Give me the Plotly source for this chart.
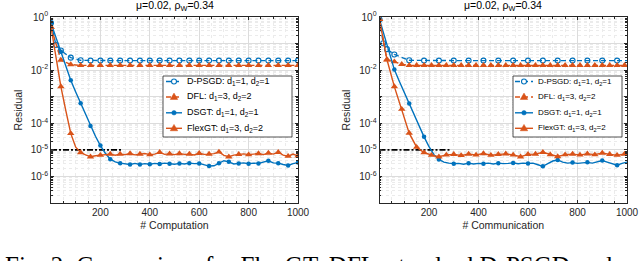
import numpy as np
import plotly.graph_objects as go

# ---------------- data (log10 of residual) ----------------
# Left panel: residual vs # Computation
comp_dpsgd_x = [0, 20, 40] + list(range(80, 1001, 40))
comp_dpsgd_log = [-0.23, -1.05, -1.26, -1.53, -1.63,
                  -1.64, -1.64, -1.64, -1.64, -1.64, -1.64, -1.64, -1.64, -1.64, -1.64, -1.64,
                  -1.64, -1.64, -1.64, -1.64, -1.64, -1.64, -1.64, -1.64, -1.64, -1.64, -1.64]

comp_dfl_x = list(range(0, 1001, 40))
comp_dfl_log = [-0.38, -1.62, -1.79,
                -1.82, -1.82, -1.82, -1.82, -1.82, -1.82, -1.82, -1.82, -1.82, -1.82, -1.82,
                -1.82, -1.82, -1.82, -1.82, -1.82, -1.82, -1.82, -1.82, -1.82, -1.82, -1.82, -1.82]

comp_dsgt_x = list(range(0, 1001, 20))
comp_dsgt_log = [-0.23, -0.78, -1.31, -1.86, -2.38, -2.82, -3.25, -3.68, -4.10, -4.49, -4.84,
                 -5.13, -5.35, -5.45, -5.50, -5.52,
                 -5.55, -5.51, -5.55, -5.52, -5.54, -5.51, -5.53, -5.50, -5.52, -5.54,
                 -5.51, -5.53, -5.50, -5.52, -5.51, -5.55, -5.61, -5.60, -5.50, -5.41,
                 -5.45, -5.53, -5.51, -5.49, -5.52, -5.50, -5.51, -5.47, -5.41, -5.49,
                 -5.50, -5.55, -5.59, -5.52, -5.48]

comp_flexgt_x = list(range(0, 1001, 20))
comp_flexgt_log = [-0.38, -1.50, -2.62, -3.52, -4.38, -4.90, -5.10, -5.19, -5.26, -5.22, -5.20,
                   -5.18, -5.16, -5.20, -5.16, -5.18, -5.14, -5.19, -5.16, -5.14, -5.18,
                   -5.16, -5.09, -5.17, -5.15, -5.18, -5.14, -5.17, -5.16, -5.19, -5.13,
                   -5.17, -5.16, -5.14, -5.08, -5.21, -5.26, -5.20, -5.17, -5.15, -5.18,
                   -5.16, -5.14, -5.18, -5.12, -5.16, -5.09, -5.20, -5.24, -5.16, -5.23]

# Right panel: residual vs # Communication
comm_dpsgd_x = [0, 15, 30] + list(range(60, 961, 60)) + [1000]
comm_dpsgd_log = [-0.09, -0.99, -1.21, -1.41, -1.63,
                  -1.64, -1.64, -1.64, -1.64, -1.64, -1.64, -1.64, -1.64, -1.64, -1.64,
                  -1.64, -1.64, -1.64, -1.64, -1.64]

comm_dfl_x = list(range(0, 991, 30)) + [1000]
comm_dfl_log = [-0.09, -1.61, -1.68, -1.78,
                -1.82, -1.82, -1.82, -1.82, -1.82, -1.82, -1.82, -1.82, -1.82, -1.82, -1.82,
                -1.82, -1.82, -1.82, -1.82, -1.82, -1.82, -1.82, -1.82, -1.82, -1.82, -1.82,
                -1.82, -1.82, -1.82, -1.82, -1.82, -1.82, -1.82, -1.82, -1.82]

comm_dsgt_x = list(range(0, 1001, 20))
comm_dsgt_log = [-0.09, -0.71, -1.34, -1.98, -2.42, -2.85, -3.26, -3.68, -4.10, -4.51, -4.88,
                 -5.18, -5.36, -5.46, -5.50, -5.52,
                 -5.51, -5.54, -5.50, -5.53, -5.51, -5.52, -5.50, -5.53, -5.50, -5.52,
                 -5.51, -5.49, -5.52, -5.50, -5.51, -5.50, -5.56, -5.62, -5.52, -5.42,
                 -5.38, -5.46, -5.50, -5.48, -5.51, -5.49, -5.47, -5.50, -5.46, -5.40,
                 -5.46, -5.52, -5.58, -5.51, -5.46]

comm_flexgt_x = list(range(0, 991, 30)) + [1000]
comm_flexgt_log = [-0.09, -1.60, -2.62, -3.47, -4.37, -4.90, -5.10, -5.20, -5.26, -5.19,
                   -5.17, -5.21, -5.16, -5.19, -5.14, -5.20, -5.17, -5.15, -5.19, -5.26,
                   -5.17, -5.16, -5.09, -5.18, -5.25, -5.18, -5.16, -5.19, -5.15, -5.18,
                   -5.12, -5.17, -5.20, -5.16, -5.17]

thr_x = [0, 290]
thr_y = [1e-5, 1e-5]

x_ticks = [200, 400, 600, 800, 1000]
y_decades = [1e-7, 1e-6, 1e-5, 1e-4, 1e-3, 1e-2, 1e-1, 1e0]
y_ticktext = ["", "10<sup>-6</sup>", "10<sup>-5</sup>", "10<sup>-4</sup>", "",
              "10<sup>-2</sup>", "", "10<sup>0</sup>"]

names = ["D-PSGD: d<sub>1</sub>=1, d<sub>2</sub>=1",
         "DFL: d<sub>1</sub>=3, d<sub>2</sub>=2",
         "DSGT: d<sub>1</sub>=1, d<sub>2</sub>=1",
         "FlexGT: d<sub>1</sub>=3, d<sub>2</sub>=2"]

title_text = "\u03bc=0.02, \u03c1<sub>W</sub>=0.34"
caption_text = "Fig. 2: Comparison for FlexGT, DFL, standard D-PSGD and"

# ---------------- styling ----------------
BLUE = "#0072BD"
ORANGE = "#D95319"
AXC = "#262626"
FONT = "Liberation Sans, Arial, sans-serif"

W, H = 640, 261
ML, MR, MT, MB = 51, 13, 17, 58
PW, PH = W - ML - MR, H - MT - MB


def px2x(px):
    return (px - ML) / PW


def py2y(py):
    return (H - MB - py) / PH


fig = go.Figure()

styles = [
    dict(color=BLUE, dash="5px,3px", symbol="circle-open", size=5, mlw=1.1),
    dict(color=ORANGE, dash="5px,3px", symbol="triangle-up", size=6.5, mlw=0),
    dict(color=BLUE, dash="solid", symbol="circle", size=4.5, mlw=0),
    dict(color=ORANGE, dash="solid", symbol="triangle-up", size=6.5, mlw=0),
]


def add_series(x, logy, st, xa, ya, mstep):
    x = np.asarray(x, dtype=float)
    y = 10.0 ** np.asarray(logy, dtype=float)
    line = dict(color=st["color"], width=1.4, dash=st["dash"])
    marker = dict(color=st["color"], symbol=st["symbol"], size=st["size"],
                  line=dict(color=st["color"], width=st["mlw"]))
    fig.add_trace(go.Scatter(x=x, y=y, mode="lines", line=line, showlegend=False,
                             xaxis=xa, yaxis=ya, hoverinfo="skip"))
    m = (x % mstep) == 0
    fig.add_trace(go.Scatter(x=x[m], y=y[m], mode="markers", marker=marker,
                             showlegend=False, xaxis=xa, yaxis=ya, hoverinfo="skip"))


# threshold lines first (underneath)
for xa, ya in (("x", "y"), ("x2", "y2")):
    fig.add_trace(go.Scatter(x=thr_x, y=thr_y, mode="lines", showlegend=False,
                             line=dict(color="black", width=1.6, dash="6px,2px,2px,2px"),
                             xaxis=xa, yaxis=ya, hoverinfo="skip"))

left = [(comp_dpsgd_x, comp_dpsgd_log, 20), (comp_dfl_x, comp_dfl_log, 40),
        (comp_dsgt_x, comp_dsgt_log, 40), (comp_flexgt_x, comp_flexgt_log, 40)]
right = [(comm_dpsgd_x, comm_dpsgd_log, 15), (comm_dfl_x, comm_dfl_log, 30),
         (comm_dsgt_x, comm_dsgt_log, 60), (comm_flexgt_x, comm_flexgt_log, 30)]

for (x, ly, ms), st in zip(left, styles):
    add_series(x, ly, st, "x", "y", ms)
for (x, ly, ms), st in zip(right, styles):
    add_series(x, ly, st, "x2", "y2", ms)

# ---------------- compact MATLAB-style legend boxes ----------------
legend_specs = [
    dict(box=(163, 76, 292, 137), line=(166, 182), text_x=185,
         rows=[81.5, 97.0, 112.8, 128.3], font=9),
    dict(box=(513, 76, 622, 137), line=(515, 533), text_x=536,
         rows=[81.5, 97.0, 112.8, 128.3], font=8),
]
for spec in legend_specs:
    bx0, by0, bx1, by1 = spec["box"]
    fig.add_shape(type="rect", xref="paper", yref="paper", layer="above",
                  x0=px2x(bx0), x1=px2x(bx1), y0=py2y(by1), y1=py2y(by0),
                  line=dict(color=AXC, width=0.8), fillcolor="white")
    lx0, lx1 = spec["line"]
    xm = px2x((lx0 + lx1) / 2)
    for st, nm, ry in zip(styles, names, spec["rows"]):
        yy = py2y(ry)
        fig.add_shape(type="line", xref="paper", yref="paper", layer="above",
                      x0=px2x(lx0), x1=px2x(lx1), y0=yy, y1=yy,
                      line=dict(color=st["color"], width=1.4, dash=st["dash"]))
        r = st["size"] / 2
        if st["symbol"].startswith("circle"):
            open_ = st["symbol"].endswith("open")
            fig.add_shape(type="circle", xref="paper", yref="paper", layer="above",
                          xsizemode="pixel", ysizemode="pixel", xanchor=xm, yanchor=yy,
                          x0=-r, x1=r, y0=-r, y1=r,
                          line=dict(color=st["color"], width=st["mlw"] if open_ else 0.5),
                          fillcolor="white" if open_ else st["color"])
        else:
            fig.add_shape(type="path", xref="paper", yref="paper", layer="above",
                          xsizemode="pixel", ysizemode="pixel", xanchor=xm, yanchor=yy,
                          path=f"M {-r*1.15} {-r*0.75} L {r*1.15} {-r*0.75} L 0 {r*1.2} Z",
                          line=dict(color=st["color"], width=0.5), fillcolor=st["color"])
        fig.add_annotation(text=nm, xref="paper", yref="paper", x=px2x(spec["text_x"]),
                           y=yy, xanchor="left", yanchor="middle", showarrow=False,
                           font=dict(family=FONT, size=spec["font"], color="black"))

minor_y = [k * 10.0 ** d for d in range(-7, 0) for k in range(2, 10)]
minor_x = [v for v in range(50, 1000, 50) if v % 200 != 0]

xcommon = dict(range=[0, 1000], tickvals=x_ticks, ticks="inside", ticklen=3,
               tickcolor=AXC, showline=True, linecolor=AXC, linewidth=0.8, mirror="ticks",
               showgrid=True, gridcolor="#dcdcdc", gridwidth=0.7, zeroline=False,
               automargin=False,
               tickfont=dict(family=FONT, size=10, color=AXC),
               minor=dict(tickvals=minor_x, showgrid=True, gridcolor="#ebebeb",
                          griddash="dot", gridwidth=0.7, ticks="inside", ticklen=2,
                          tickcolor=AXC),
               title=dict(font=dict(family=FONT, size=10.5, color=AXC), standoff=4))
ycommon = dict(type="log", range=[-7, 0], tickvals=y_decades, ticktext=y_ticktext,
               ticks="inside", ticklen=3, tickcolor=AXC, showline=True, linecolor=AXC,
               linewidth=0.8, mirror="ticks", showgrid=True, gridcolor="#dcdcdc",
               gridwidth=0.7, zeroline=False, automargin=False,
               tickfont=dict(family=FONT, size=10, color=AXC),
               minor=dict(tickvals=minor_y, showgrid=True, gridcolor="#ebebeb",
                          griddash="dot", gridwidth=0.7, ticks="inside", ticklen=2,
                          tickcolor=AXC),
               title=dict(text="Residual", font=dict(family=FONT, size=10.5, color=AXC),
                          standoff=6))

d1 = [0, px2x(298)]
d2 = [px2x(379.5), 1.0]
fig.update_layout(
    width=W, height=H,
    margin=dict(l=ML, r=MR, t=MT, b=MB),
    paper_bgcolor="white", plot_bgcolor="white",
    font=dict(family=FONT, color=AXC),
    showlegend=False,
    xaxis=dict(domain=d1, anchor="y", **xcommon),
    yaxis=dict(domain=[0, 1], anchor="x", **ycommon),
    xaxis2=dict(domain=d2, anchor="y2", **xcommon),
    yaxis2=dict(domain=[0, 1], anchor="x2", **ycommon),
)
fig.layout.xaxis.title.text = "# Computation"
fig.layout.xaxis2.title.text = "# Communication"

for d in (d1, d2):
    fig.add_annotation(text=title_text, xref="paper", yref="paper",
                       x=(d[0] + d[1]) / 2, y=1.0 + 2 / PH, xanchor="center", yanchor="bottom",
                       showarrow=False, font=dict(family=FONT, size=10.5, color="black"))

fig.add_annotation(text=caption_text, xref="paper", yref="paper", x=px2x(3), y=-0.335,
                   xanchor="left", yanchor="middle", showarrow=False,
                   font=dict(family="Liberation Serif, Times New Roman, serif", size=25,
                             color="black"))

fig.write_html("out.html", config={"displayModeBar": False},
               post_script="document.body.style.margin='0px';")
